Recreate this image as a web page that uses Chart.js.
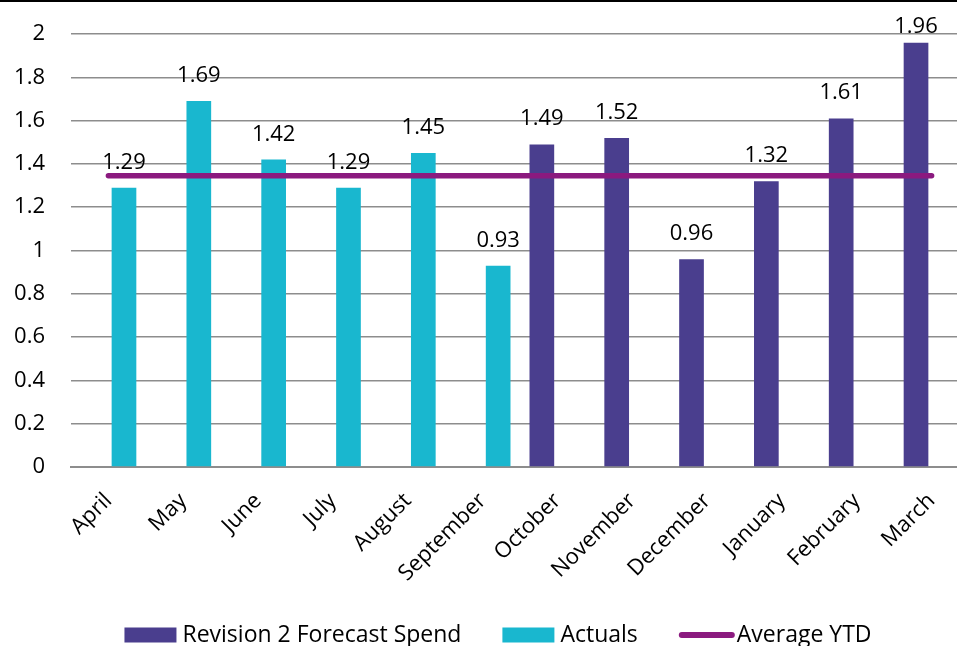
<!DOCTYPE html>
<html>
<head>
<meta charset="utf-8">
<script src="https://cdn.jsdelivr.net/npm/chart.js@4.4.1/dist/chart.umd.min.js"></script>
<style>
    html, body { margin: 0; padding: 0; background: #fff; overflow: hidden; }
    #wrap { position: relative; width: 957px; height: 646px; overflow: hidden; }
    #spendChart { position: absolute; left: 0; top: 0; }
    #topLine { position: absolute; left: 0; top: 0; width: 957px; height: 2px; background: #000; }
</style>
</head>
<body>
<div id="wrap">
    <canvas id="spendChart" width="1002" height="646"></canvas>
    <div id="topLine"></div>
</div>
<script>
let months = ['April', 'May', 'June', 'July', 'August', 'September', 'October', 'November', 'December', 'January', 'February', 'March'];
let forecastSpend = [null, null, null, null, null, null, 1.49, 1.52, 0.96, 1.32, 1.61, 1.96];
let actuals = [1.29, 1.69, 1.42, 1.29, 1.45, 0.93, null, null, null, null, null, null];
let averageYtd = [1.345, 1.345, 1.345, 1.345, 1.345, 1.345, 1.345, 1.345, 1.345, 1.345, 1.345, 1.345];
let yTickLabels = ['0', '0.2', '0.4', '0.6', '0.8', '1', '1.2', '1.4', '1.6', '1.8', '2'];

let FONT = "'Open Sans', sans-serif";
let GRID = '#8d8d8d';

// value labels above the bars (kept inside the top of the plot)
let barLabels = {
    id: 'barLabels',
    afterDatasetsDraw: function (chart) {
        let ctx = chart.ctx;
        ctx.save();
        ctx.font = '22px ' + FONT;
        ctx.fillStyle = '#000';
        ctx.textAlign = 'center';
        ctx.textBaseline = 'alphabetic';
        chart.data.datasets.forEach(function (ds, i) {
            if (ds.type !== 'bar') return;
            chart.getDatasetMeta(i).data.forEach(function (bar, j) {
                let v = ds.data[j];
                if (v === null) return;
                let y = Math.max(bar.y - 19, chart.chartArea.top - 1);
                ctx.fillText(String(v), bar.x, y);
            });
        });
        ctx.restore();
    }
};

// legend row at the bottom
let bottomLegend = {
    id: 'bottomLegend',
    afterDraw: function (chart) {
        let ctx = chart.ctx;
        ctx.save();
        ctx.font = '23px ' + FONT;
        let items = chart.data.datasets.map(function (ds) {
            return { ds: ds, w: ctx.measureText(ds.label).width };
        });
        let iconW = 52, textGap = 58, itemGap = 41;
        let total = 0;
        items.forEach(function (it, k) {
            total += textGap + it.w + (k < items.length - 1 ? itemGap : 0);
        });
        let x = chart.width / 2 - total / 2 - 3;
        let y = chart.height - 11;
        items.forEach(function (it) {
            if (it.ds.type === 'line') {
                ctx.strokeStyle = it.ds.borderColor;
                ctx.lineWidth = 6;
                ctx.lineCap = 'round';
                ctx.beginPath();
                ctx.moveTo(x + 3, y);
                ctx.lineTo(x + iconW + 1, y);
                ctx.stroke();
            } else {
                ctx.fillStyle = it.ds.backgroundColor;
                ctx.fillRect(x, y - 7.5, iconW, 15);
            }
            ctx.fillStyle = '#000';
            ctx.textAlign = 'left';
            ctx.textBaseline = 'middle';
            ctx.fillText(it.ds.label, x + textGap, y);
            x += textGap + it.w + itemGap;
        });
        ctx.restore();
    }
};

let ctx = document.getElementById('spendChart').getContext('2d');

window.spendChart = new Chart(ctx, {
    data: {
        labels: months,
        datasets: [{
            type: 'bar',
            label: 'Revision 2 Forecast Spend',
            data: forecastSpend,
            backgroundColor: '#4a3e8e',
            categoryPercentage: 0.832,
            barPercentage: 0.793
        }, {
            type: 'bar',
            label: 'Actuals',
            data: actuals,
            backgroundColor: '#19b7cf',
            categoryPercentage: 0.832,
            barPercentage: 0.793
        }, {
            type: 'line',
            label: 'Average YTD',
            data: averageYtd,
            borderColor: '#8b1a7f',
            backgroundColor: '#8b1a7f',
            borderWidth: 5.5,
            borderCapStyle: 'round',
            pointRadius: 0,
            order: -1
        }]
    },
    options: {
        responsive: false,
        animation: false,
        devicePixelRatio: 1,
        layout: {
            padding: { top: 34, right: 33, left: 0, bottom: 0 }
        },
        plugins: {
            legend: { display: false },
            tooltip: { enabled: false }
        },
        scales: {
            x: {
                grid: { display: false, drawTicks: false },
                border: { color: GRID, width: 2 },
                ticks: {
                    color: '#000',
                    font: { family: FONT, size: 22 },
                    minRotation: 45,
                    maxRotation: 45,
                    autoSkip: false,
                    padding: 21
                },
                afterFit: function (scale) { scale.height = 179; }
            },
            y: {
                min: 0,
                max: 2,
                grid: { color: GRID, lineWidth: 1.5, drawTicks: false },
                border: { display: false },
                ticks: {
                    stepSize: 0.2,
                    color: '#000',
                    font: { family: FONT, size: 22 },
                    padding: 26,
                    callback: function (v, i) { return yTickLabels[i]; }
                },
                afterFit: function (scale) {
                    scale.width = 71;
                    scale.paddingTop = 0;
                    scale.paddingBottom = 0;
                }
            }
        }
    },
    plugins: [barLabels, bottomLegend]
});
</script>
</body>
</html>
